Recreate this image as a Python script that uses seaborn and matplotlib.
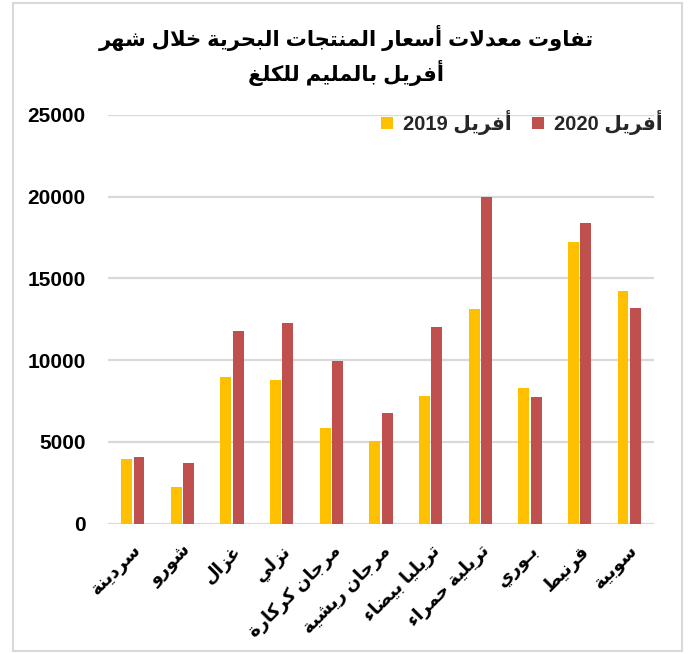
import matplotlib
matplotlib.use("Agg")
import matplotlib.pyplot as plt
from matplotlib.patches import Rectangle
import seaborn as sns
import pandas as pd

# ---------------- data ----------------
title_lines = ["تفاوت معدلات أسعار المنتجات البحرية خلال شهر", "أفريل بالمليم للكلغ"]
categories = ["سردينة", "شورو", "غزال", "نزلي", "مرجان كركارة", "مرجان ريشية",
              "تريليا بيضاء", "تريلية حمراء", "بـوري", "قرنيط", "سوبية"]
series_names = ["أفريل 2019", "أفريل 2020"]
values_2019 = [3950, 2250, 8950, 8770, 5850, 5050, 7800, 13100, 8300, 17200, 14250]
values_2020 = [4050, 3700, 11800, 12300, 9950, 6750, 12050, 20000, 7750, 18400, 13200]
yticks = [0, 5000, 10000, 15000, 20000, 25000]
colors = ["#FFC000", "#C0504D"]

# ---------------- minimal Arabic shaping ----------------
DUAL = {'ب': 0xFE8F, 'ت': 0xFE95, 'ج': 0xFE9D, 'ح': 0xFEA1, 'خ': 0xFEA5, 'س': 0xFEB1,
        'ش': 0xFEB5, 'ض': 0xFEBD, 'ط': 0xFEC1, 'ع': 0xFEC9, 'غ': 0xFECD, 'ف': 0xFED1,
        'ق': 0xFED5, 'ك': 0xFED9, 'ل': 0xFEDD, 'م': 0xFEE1, 'ن': 0xFEE5, 'ه': 0xFEE9,
        'ي': 0xFEF1}
RIGHT = {'ا': 0xFE8D, 'أ': 0xFE83, 'ة': 0xFE93, 'د': 0xFEA9, 'ر': 0xFEAD, 'ز': 0xFEAF,
         'و': 0xFEED}
NONJ = {'ء': 0xFE80}
TATWEEL = 'ـ'
LAMALEF = {'ا': (0xFEFB, 0xFEFC), 'أ': (0xFEF7, 0xFEF8)}


def is_dual(c):
    return c in DUAL or c == TATWEEL


def joins_right(c):  # can connect to previous letter
    return c in DUAL or c in RIGHT or c == TATWEEL


def shape_word(w):
    out = []
    i = 0
    n = len(w)
    while i < n:
        c = w[i]
        prev = w[i - 1] if i > 0 else None
        prev_connects = prev is not None and is_dual(prev) and joins_right(c)
        if c == 'ل' and i + 1 < n and w[i + 1] in LAMALEF:
            iso, fin = LAMALEF[w[i + 1]]
            out.append(chr(fin if prev_connects else iso))
            i += 2
            continue
        nxt = w[i + 1] if i + 1 < n else None
        next_connects = nxt is not None and is_dual(c) and joins_right(nxt)
        if c == TATWEEL:
            out.append(c)
        elif c in DUAL:
            b = DUAL[c]
            if prev_connects and next_connects:
                out.append(chr(b + 3))
            elif prev_connects:
                out.append(chr(b + 1))
            elif next_connects:
                out.append(chr(b + 2))
            else:
                out.append(chr(b))
        elif c in RIGHT:
            b = RIGHT[c]
            out.append(chr(b + 1 if prev_connects else b))
        elif c in NONJ:
            out.append(chr(NONJ[c]))
        else:
            out.append(c)
        i += 1
    return "".join(out)


def ar(text):
    lines = []
    for line in text.split("\n"):
        toks = line.split(" ")
        vis = []
        for t in reversed(toks):
            if any('\u0600' <= ch <= '\u06FF' for ch in t):
                vis.append(shape_word(t)[::-1])
            else:
                vis.append(t)
        lines.append(" ".join(vis))
    return "\n".join(lines)


# ---------------- plot ----------------
sns.set_theme(style="white")
plt.rcParams['font.family'] = ['Liberation Sans', 'DejaVu Sans']
plt.rcParams['font.weight'] = 'bold'

cat_labels = [ar(c) for c in categories]
names = [ar(s) for s in series_names]
df = pd.DataFrame({
    "cat": cat_labels * 2,
    "value": values_2019 + values_2020,
    "series": [names[0]] * len(cat_labels) + [names[1]] * len(cat_labels),
})

W, H = 691, 654
fig = plt.figure(figsize=(W / 100, H / 100), dpi=100)
ax = fig.add_axes([108 / W, (H - 523.6) / H, (654 - 108) / W, (523.6 - 115) / H])

sns.barplot(data=df, x="cat", y="value", hue="series", order=cat_labels,
            hue_order=names, palette=colors, saturation=1, width=0.5, gap=0.12,
            linewidth=0, ax=ax)

ax.set_ylim(0, 25000)
ax.set_yticks(yticks)
ax.set_yticklabels([str(v) for v in yticks], fontsize=15, fontweight='bold', color='black')
ax.yaxis.grid(True, color='#D9D9D9', linewidth=1.6)
ax.set_axisbelow(True)
for s in ax.spines.values():
    s.set_visible(False)
ax.tick_params(axis='y', length=0, pad=16)
ax.tick_params(axis='x', length=0, pad=13)
ax.set_xlabel("")
ax.set_ylabel("")
ax.set_xticks(range(len(cat_labels)))
ax.set_xticklabels(cat_labels, rotation=45, ha='right', va='top',
                   rotation_mode='anchor', fontsize=13, fontweight='bold',
                   color='black')

leg = ax.legend(loc='upper right', bbox_to_anchor=(673 / W, (H - 100) / H),
                bbox_transform=fig.transFigure, ncol=2, frameon=False,
                handlelength=0.6, handleheight=0.6,
                handletextpad=0.5, columnspacing=1.0, borderpad=0,
                prop={'weight': 'bold', 'size': 14.5})

fig.text(346 / W, (H - 38) / H, ar(title_lines[0]), ha='center', va='center',
         fontsize=15.2, fontweight='bold', color='black')
fig.text(346 / W, (H - 73) / H, ar(title_lines[1]), ha='center', va='center',
         fontsize=15.2, fontweight='bold', color='black')

fig.patches.append(Rectangle((13 / W, 3 / H), (682 - 13) / W, (651 - 3) / H,
                             transform=fig.transFigure, fill=False,
                             edgecolor='#D9D9D9', linewidth=1.5))

fig.savefig("out.png", dpi=100)
